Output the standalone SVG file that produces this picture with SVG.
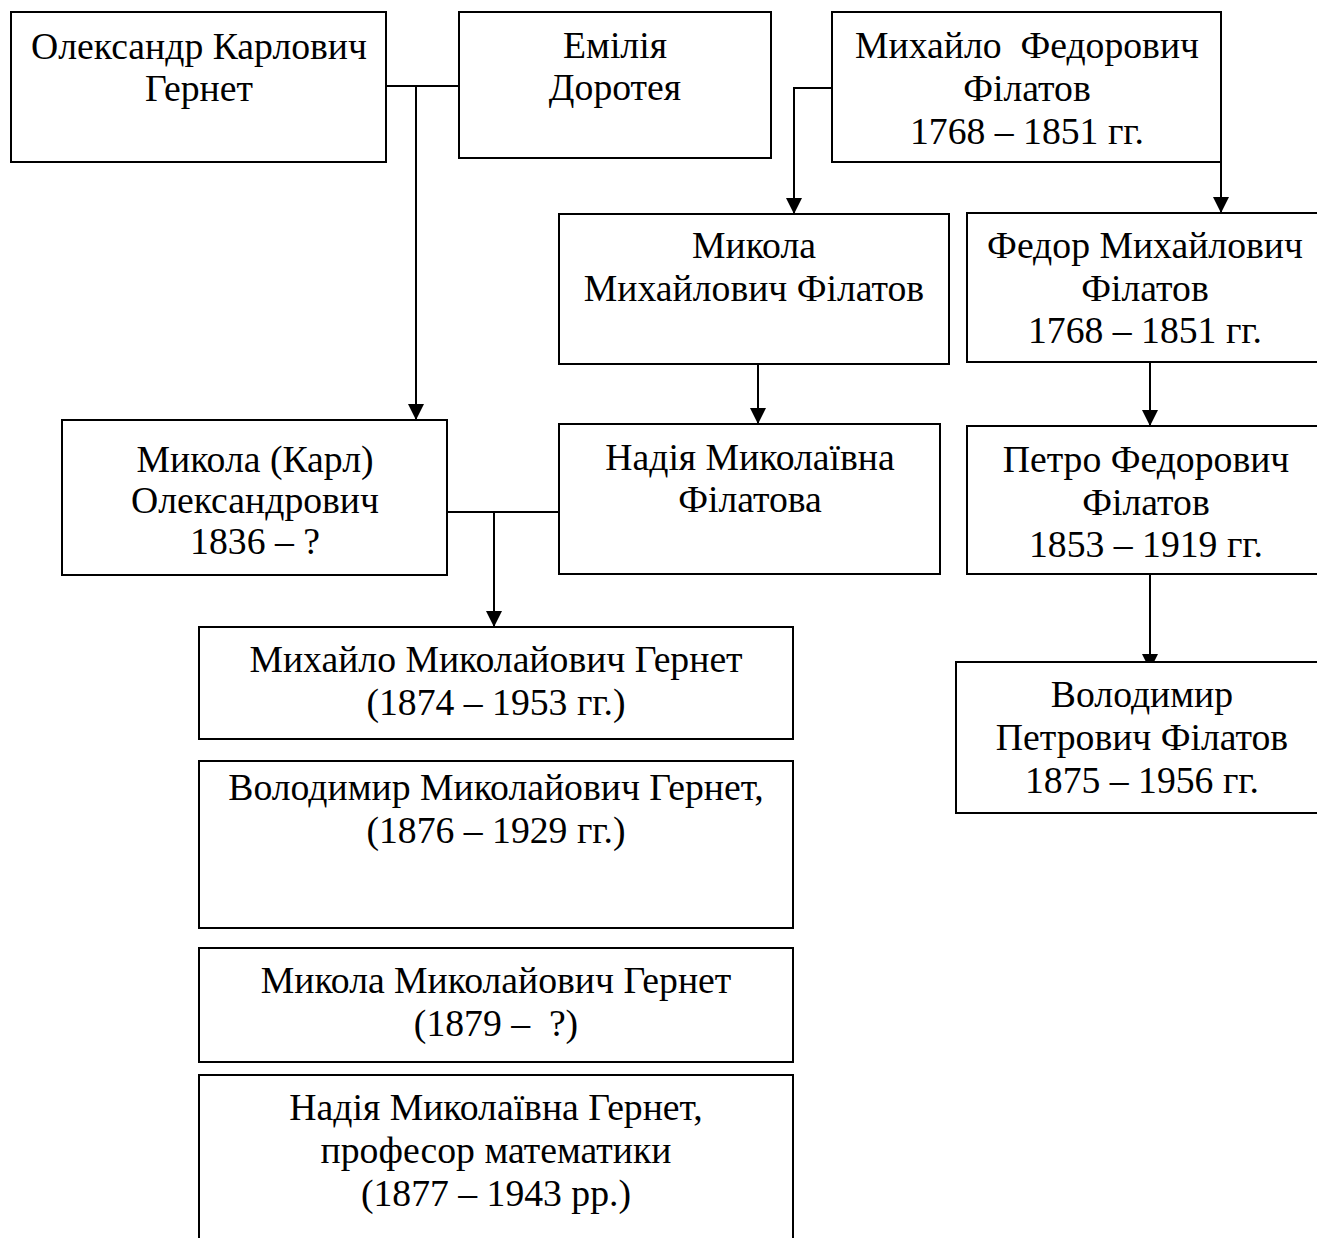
<svg xmlns="http://www.w3.org/2000/svg" width="1317" height="1238" viewBox="0 0 1317 1238">
<style>
.box{fill:#fff;stroke:#000;stroke-width:2}
.t{font-family:"Liberation Serif","Times New Roman",serif;font-size:37.7px;fill:#000;text-anchor:middle}
.c{fill:none;stroke:#000;stroke-width:2}
</style>
<defs>
<marker id="ah" markerUnits="userSpaceOnUse" markerWidth="17" markerHeight="17" viewBox="0 0 17 17" refX="16" refY="8" orient="auto">
<path d="M0,0 L16,8 L0,16 z" fill="#000"/>
</marker>
</defs>
<rect width="1317" height="1238" fill="#fff"/>
<g id="connectors">
<path class="c" d="M386,86 H459"/>
<path class="c" d="M416,86 V420" marker-end="url(#ah)"/>
<path class="c" d="M832,88 H794 V214" marker-end="url(#ah)"/>
<path class="c" d="M1221,88 V213" marker-end="url(#ah)"/>
<path class="c" d="M758,364 V424" marker-end="url(#ah)"/>
<path class="c" d="M447,512 H559"/>
<path class="c" d="M494,512 V627" marker-end="url(#ah)"/>
<path class="c" d="M1150,362 V426" marker-end="url(#ah)"/>
<path class="c" d="M1150,574 V670" marker-end="url(#ah)"/>
</g>
<g id="n1"><rect class="box" x="11" y="12" width="375" height="150"/>
<text class="t" x="199" y="59">Олександр Карлович</text><text class="t" x="199" y="101">Гернет</text></g>
<g id="n2"><rect class="box" x="459" y="12" width="312" height="146"/>
<text class="t" x="615" y="58">Емілія</text><text class="t" x="615" y="100">Доротея</text></g>
<g id="n3"><rect class="box" x="832" y="12" width="389" height="150"/>
<text class="t" x="1027" y="58" xml:space="preserve">Михайло  Федорович</text><text class="t" x="1027" y="101">Філатов</text><text class="t" x="1027" y="144">1768 – 1851 гг.</text></g>
<g id="n4"><rect class="box" x="559" y="214" width="390" height="150"/>
<text class="t" x="754" y="258">Микола</text><text class="t" x="754" y="301">Михайлович Філатов</text></g>
<g id="n5"><rect class="box" x="967" y="213" width="360" height="149"/>
<text class="t" x="1145" y="258">Федор Михайлович</text><text class="t" x="1145" y="301">Філатов</text><text class="t" x="1145" y="343">1768 – 1851 гг.</text></g>
<g id="n6"><rect class="box" x="62" y="420" width="385" height="155"/>
<text class="t" x="255" y="472">Микола (Карл)</text><text class="t" x="255" y="513">Олександрович</text><text class="t" x="255" y="554">1836 – ?</text></g>
<g id="n7"><rect class="box" x="559" y="424" width="381" height="150"/>
<text class="t" x="750" y="470">Надія Миколаївна</text><text class="t" x="750" y="512">Філатова</text></g>
<g id="n8"><rect class="box" x="967" y="426" width="360" height="148"/>
<text class="t" x="1146" y="472">Петро Федорович</text><text class="t" x="1146" y="515">Філатов</text><text class="t" x="1146" y="557">1853 – 1919 гг.</text></g>
<g id="n9"><rect class="box" x="956" y="662" width="372" height="151"/>
<text class="t" x="1142" y="707">Володимир</text><text class="t" x="1142" y="750">Петрович Філатов</text><text class="t" x="1142" y="793">1875 – 1956 гг.</text></g>
<g id="n10"><rect class="box" x="199" y="627" width="594" height="112"/>
<text class="t" x="496" y="672">Михайло Миколайович Гернет</text><text class="t" x="496" y="715">(1874 – 1953 гг.)</text></g>
<g id="n11"><rect class="box" x="199" y="761" width="594" height="167"/>
<text class="t" x="496" y="800">Володимир Миколайович Гернет,</text><text class="t" x="496" y="843">(1876 – 1929 гг.)</text></g>
<g id="n12"><rect class="box" x="199" y="948" width="594" height="114"/>
<text class="t" x="496" y="993">Микола Миколайович Гернет</text><text class="t" x="496" y="1036" xml:space="preserve">(1879 –  ?)</text></g>
<g id="n13"><rect class="box" x="199" y="1075" width="594" height="180"/>
<text class="t" x="496" y="1120">Надія Миколаївна Гернет,</text><text class="t" x="496" y="1163">професор математики</text><text class="t" x="496" y="1206">(1877 – 1943 рр.)</text></g>
</svg>
